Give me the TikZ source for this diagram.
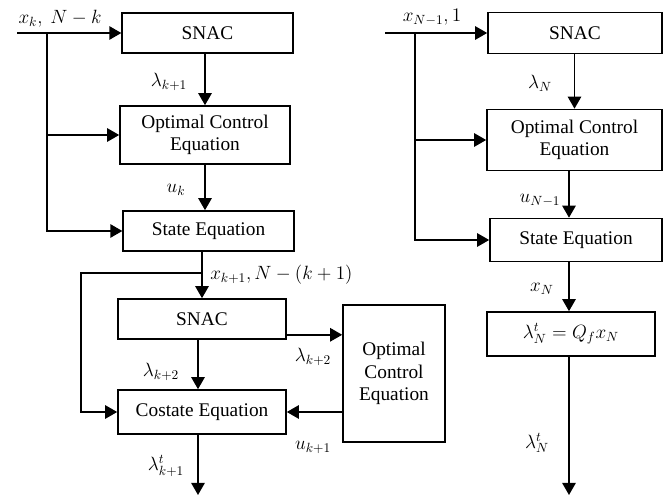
\documentclass[tikz,border=0pt]{standalone}
\usepackage{fontspec}
\setmainfont{Liberation Serif}
\usetikzlibrary{positioning}
\usetikzlibrary{arrows.meta}

\tikzset{
	block/.style={draw, line width=1.2pt, align=center, inner sep=2pt, font=\fontsize{14.5}{17}\selectfont},
	arr/.style={line width=1.2pt, -{Triangle[length=9pt,width=10pt]}},
	wire/.style={line width=1.2pt},
	lbl/.style={font=\fontsize{14.5}{17}\selectfont, inner sep=0pt}
}

\begin{document}
\begin{tikzpicture}[x=0.75pt, y=-0.75pt]
	\useasboundingbox (0,0) rectangle (665,502);

	% left column
	\node [block, minimum width=128pt, minimum height=30pt] (snacA) at (207.5,33) {SNAC};
	\node [block, minimum width=127.5pt, minimum height=43.5pt] (ocA) at (205,135) {Optimal Control\\Equation};
	\node [block, minimum width=128pt, minimum height=30pt] (stA) at (208.5,231) {State Equation};
	\node [block, minimum width=126pt, minimum height=30pt] (snacB) at (202,319) {SNAC};
	\node [block, minimum width=126pt, minimum height=33pt] (costB) at (202,412) {Costate Equation};
	\node [block, minimum width=76.5pt, minimum height=102.75pt] (ocB) at (394,373.5) {Optimal\\Control\\Equation};

	\coordinate (inA) at (17,33);
	\coordinate (brA) at (47,33);
	\coordinate (loopA) at (81,273);
	\coordinate (outA) at (198,495);
	\coordinate (lamOut) at ([yshift=3.75pt]snacB.south east);

	\draw [arr] (inA) -- (snacA.west);
	\draw [arr] (brA) |- (stA.west);
	\draw [arr] (brA |- ocA.west) -- (ocA.west);
	\draw [arr] (snacA.south -| ocA.north) -- (ocA.north);
	\draw [arr] (ocA.south) -- (ocA.south |- stA.north);
	\draw [arr] (stA.south -| snacB.north) -- (snacB.north);
	\draw [arr] (loopA -| snacB.north) -- (loopA) |- (costB.west);
	\draw [arr] (snacB.south -| outA) -- (costB.north -| outA);
	\draw [arr] (lamOut) -- (lamOut -| ocB.west);
	\draw [arr] (ocB.west |- costB.east) -- (costB.east);
	\draw [arr] (costB.south -| outA) -- (outA);

	\node [lbl] (lxA) at (60,19) {$x_k,\ N-k$};
	\node [lbl] (llA) at (169,82) {$\lambda_{k+1}$};
	\node [lbl] (luA) at (176,190) {$u_k$};
	\node [lbl, anchor=west] (lxB) at (210,275) {$x_{k+1}, N-(k+1)$};
	\node [lbl] (llB) at (161,372) {$\lambda_{k+2}$};
	\node [lbl] (llC) at (313,357) {$\lambda_{k+2}$};
	\node [lbl] (luB) at (313,447) {$u_{k+1}$};
	\node [lbl] (ltA) at (166,466) {$\lambda^{t}_{k+1}$};

	% right column
	\node [block, minimum width=130.5pt, minimum height=30.75pt] (snacC) at (575,33) {SNAC};
	\node [block, minimum width=131.25pt, minimum height=45.75pt] (ocC) at (574.5,140) {Optimal Control\\Equation};
	\node [block, minimum width=129pt, minimum height=32.25pt] (stC) at (576,240) {State Equation};
	\node [block, minimum width=126pt, minimum height=33pt] (lamC) at (571,334) {$\lambda^{t}_{N}=Q_f x_N$};

	\coordinate (inC) at (385,33);
	\coordinate (brC) at (415,33);
	\coordinate (outC) at (569,495);

	\draw [arr] (inC) -- (snacC.west);
	\draw [arr] (brC) |- (stC.west);
	\draw [arr] (brC |- ocC.west) -- (ocC.west);
	\draw [arr] (snacC.south -| ocC.north) -- (ocC.north);
	\draw [arr] (ocC.south -| outC) -- (stC.north -| outC);
	\draw [arr] (stC.south -| outC) -- (lamC.north -| outC);
	\draw [arr] (lamC.south -| outC) -- (outC);

	\node [lbl] (lxC) at (432,17) {$x_{N-1}, 1$};
	\node [lbl] (llD) at (540,83) {$\lambda_N$};
	\node [lbl] (luC) at (540,200) {$u_{N-1}$};
	\node [lbl] (lxD) at (542,289) {$x_N$};
	\node [lbl] (ltC) at (537,443) {$\lambda^{t}_{N}$};
\end{tikzpicture}
\end{document}
